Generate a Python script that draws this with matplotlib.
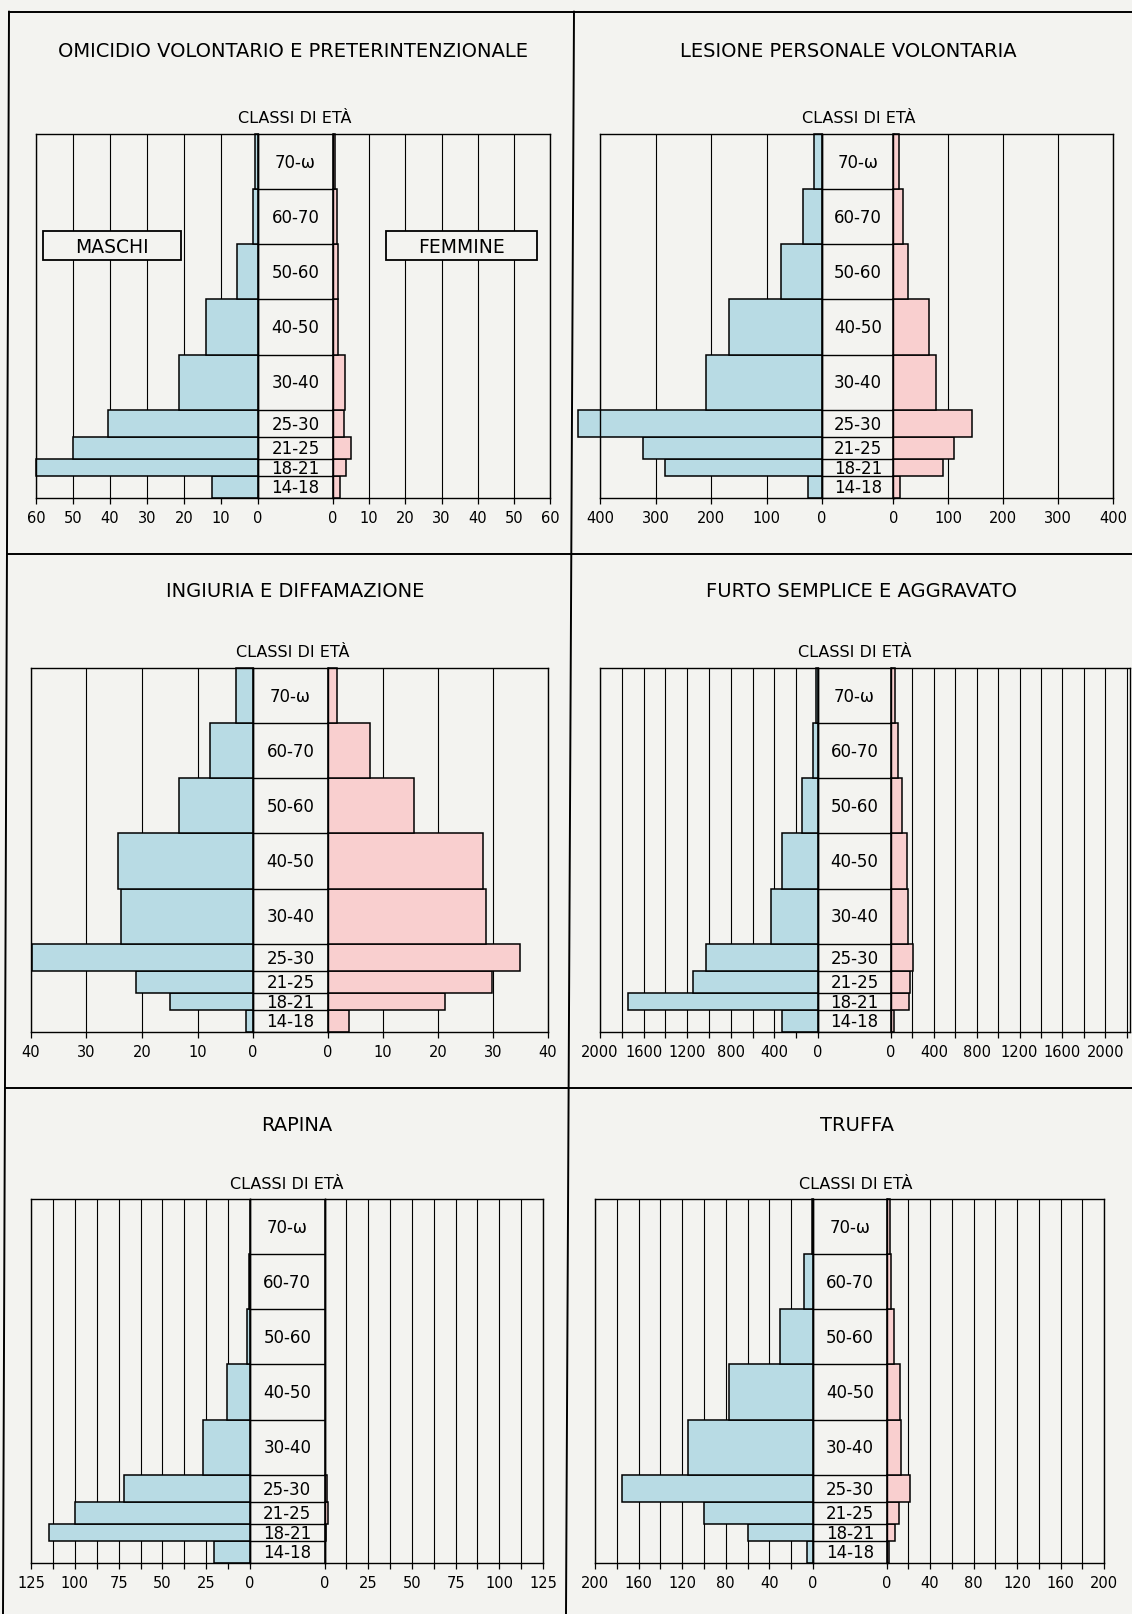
import numpy as np
import matplotlib
matplotlib.use('Agg')
import matplotlib.pyplot as plt
from matplotlib.patches import Rectangle
from matplotlib.lines import Line2D

# Classi di eta' (dal basso verso l'alto) e loro ampiezza in anni
classi = ['14-18', '18-21', '21-25', '25-30', '30-40', '40-50', '50-60', '60-70', '70-ω']
eta_da = [14, 18, 21, 25, 30, 40, 50, 60, 70]
eta_ampiezza = [4, 3, 4, 5, 10, 10, 10, 10, 10]

titoli = ['OMICIDIO VOLONTARIO E PRETERINTENZIONALE', 'LESIONE PERSONALE VOLONTARIA',
          'INGIURIA E DIFFAMAZIONE', 'FURTO SEMPLICE E AGGRAVATO',
          'RAPINA', 'TRUFFA']

# Valori (stesso ordine delle classi)
omicidio_m = [12.4, 60, 49.9, 40.6, 21.4, 14.0, 5.7, 1.3, 0.8]
omicidio_f = [1.8, 3.7, 4.9, 3.1, 3.3, 1.3, 1.3, 1.0, 0.6]
lesione_m = [25, 282, 323, 440, 209, 167, 74, 35, 14]
lesione_f = [12, 90, 110, 143, 78, 65, 27, 17, 10.6]
ingiuria_m = [1.3, 15, 21, 39.8, 23.7, 24.4, 13.4, 7.7, 3.1]
ingiuria_f = [3.9, 21.3, 29.9, 34.9, 28.7, 28.1, 15.7, 7.7, 1.7]
furto_m = [327, 1740, 1150, 1027, 427, 327, 143, 43, 20]
furto_f = [24, 170, 176, 203, 159, 146, 102, 61, 34]
rapina_m = [20.7, 115, 100, 72, 27, 13, 1.7, 0.5, 0]
rapina_f = [0, 1, 2, 1.5, 0, 0, 0, 0.3, 0]
truffa_m = [5.6, 59.5, 100, 175, 115, 77, 30, 8.3, 0.5]
truffa_f = [2, 7.6, 11, 21.9, 13.6, 12.6, 6.6, 3.6, 2.7]

maschi = [omicidio_m, lesione_m, ingiuria_m, furto_m, rapina_m, truffa_m]
femmine = [omicidio_f, lesione_f, ingiuria_f, furto_f, rapina_f, truffa_f]

# scale degli assi
scala_m = [60, 400, 40, 2000, 125, 200]
scala_f = [60, 400, 40, 2230, 125, 200]
passo_griglia = [10, 100, 10, 200, 12.5, 20]
passo_etichette = [10, 100, 10, 400, 25, 40]
etichetta_max = [60, 400, 40, 2000, 125, 200]

# impaginazione in pixel (immagine 1132x1615)
W, H = 1132, 1615
righe_y = [(135, 499), (669, 1033), (1200, 1564)]
titolo_y = [50, 590, 1124]
classi_y = [117, 651, 1183]
colonne_x = [(36, 258, 333, 550), (600, 822, 893.5, 1113),
             (31, 253, 328, 548), (600, 818, 891, 1130),
             (31, 250, 324.6, 543), (595, 813, 886.6, 1104)]
titolo_x = [293, 848, 295, 861, 297, 857]
classi_x = [295, 859, 293, 855, 287, 856]

sfondo = '#f3f3f0'
blu = '#b8dbe4'
rosa = '#f9cfcf'


def fx(px):
    return px / W


def fy(py):
    return 1 - py / H


def etichetta(v, passo, vmax):
    if v > vmax + 1e-9:
        return ''
    if abs(v / passo - round(v / passo)) < 1e-6:
        return str(int(round(v)))
    return ''


fig = plt.figure(figsize=(W / 100, H / 100), dpi=100, facecolor=sfondo)

for i in range(6):
    riga = i // 2
    top, bot = righe_y[riga]
    left, mz, fz, right = colonne_x[i]
    h = (bot - top) / H
    axm = fig.add_axes([fx(left), fy(bot), (mz - left) / W, h])
    axc = fig.add_axes([fx(mz), fy(bot), (fz - mz) / W, h])
    axf = fig.add_axes([fx(fz), fy(bot), (right - fz) / W, h])

    for ax, vals, col, lim in ((axm, maschi[i], blu, scala_m[i]),
                               (axf, femmine[i], rosa, scala_f[i])):
        ax.set_facecolor('none')
        ax.barh(eta_da, vals, height=eta_ampiezza, align='edge', color=col,
                edgecolor='black', linewidth=1.1, clip_on=False, zorder=2)
        ax.set_ylim(14, 80)
        ax.set_yticks([])
        ticks = np.arange(0, lim + 1e-9, passo_griglia[i])
        ax.set_xticks(ticks)
        ax.set_xticklabels([etichetta(v, passo_etichette[i], etichetta_max[i]) for v in ticks])
        ax.grid(axis='x', color='black', linewidth=0.8)
        ax.set_axisbelow(True)
        ax.tick_params(axis='x', direction='out', length=4.5, width=0.9, pad=4,
                       labelsize=10.5)
        for s in ax.spines.values():
            s.set_linewidth(1.0)
    axm.set_xlim(scala_m[i], 0)
    axf.set_xlim(0, scala_f[i])

    # colonna centrale con le classi di eta'
    axc.set_facecolor('none')
    axc.set_xlim(0, 1)
    axc.set_ylim(14, 80)
    axc.set_xticks([])
    axc.set_yticks([])
    for s in axc.spines.values():
        s.set_linewidth(1.0)
    for y0, dy, c in zip(eta_da, eta_ampiezza, classi):
        axc.axhline(y0, color='black', linewidth=1.0)
        axc.text(0.5, y0 + dy / 2, c, ha='center', va='center', fontsize=12)

    fig.text(fx(titolo_x[i]), fy(titolo_y[riga] + 7), titoli[i],
             ha='center', va='baseline', fontsize=14)
    fig.text(fx(classi_x[i]), fy(classi_y[riga] + 5.8), 'CLASSI DI ETÀ',
             ha='center', va='baseline', fontsize=11.5)

# riquadri MASCHI / FEMMINE
for (x0, x1), testo in (((43, 181), 'MASCHI'), ((386, 537), 'FEMMINE')):
    fig.add_artist(Rectangle((fx(x0), fy(261)), (x1 - x0) / W, 29 / H,
                             facecolor=sfondo, edgecolor='black', linewidth=1.3,
                             transform=fig.transFigure, zorder=5))
    fig.text(fx((x0 + x1) / 2), fy(246.5 + 6.5), testo, ha='center', va='baseline',
             fontsize=13.5, zorder=6)

# cornice e divisori
linee = [((9, 3), (12.7, 1615)), ((9, W), (12.7, 12.7)),
         ((574, 566), (12.7, 1615)), ((8, W), (555, 555)), ((5, W), (1089, 1089))]
for xs, ys in linee:
    fig.add_artist(Line2D([fx(x) for x in xs], [fy(y) for y in ys],
                          color='black', linewidth=1.4, transform=fig.transFigure))

fig.savefig('out.png', dpi=100, facecolor=sfondo)
